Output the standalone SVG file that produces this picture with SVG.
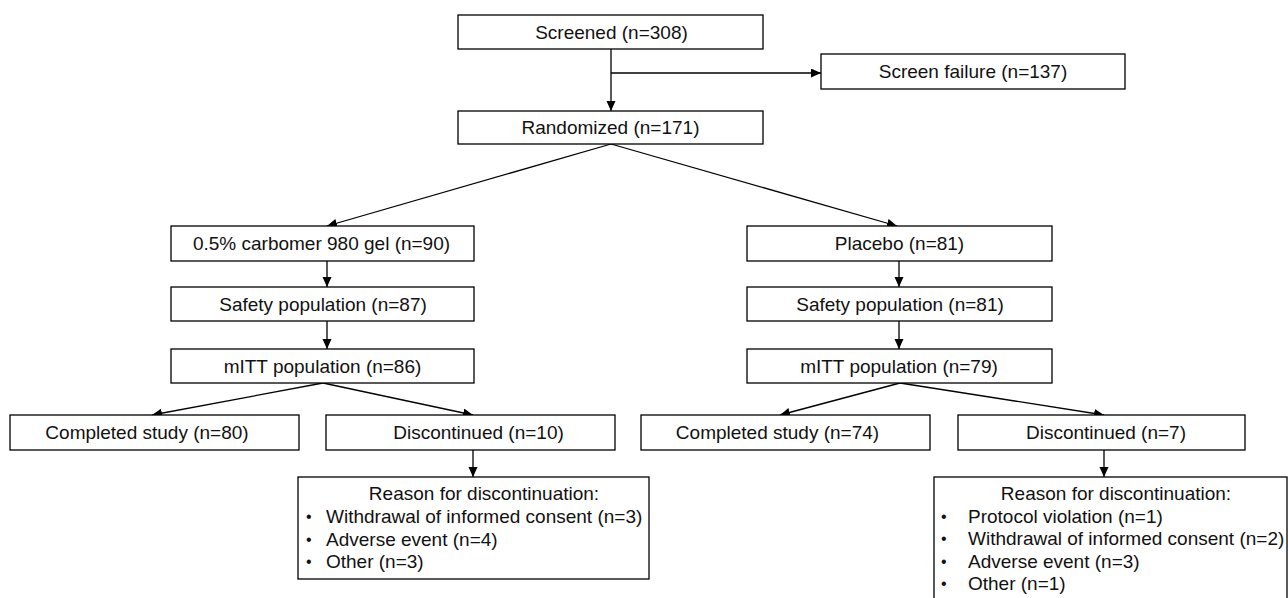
<svg xmlns="http://www.w3.org/2000/svg" width="1288" height="598" viewBox="0 0 1288 598">
<style>
rect.box{fill:#fff;stroke:#000;stroke-width:1.3}
text{font-family:"Liberation Sans",Arial,sans-serif;font-size:19px;fill:#111}
.c{text-anchor:middle}
.b{font-size:16px}
#connectors line{stroke:#000;stroke-width:1.3;fill:none}
</style>
<defs>
<marker id="ah" markerUnits="userSpaceOnUse" markerWidth="11" markerHeight="10" refX="10" refY="4.5" orient="auto">
<path d="M0,0 L10,4.5 L0,9 z" fill="#000"/>
</marker>
</defs>
<rect width="1288" height="598" fill="#fff"/>
<g id="connectors">
<line x1="611" y1="49" x2="611" y2="111" marker-end="url(#ah)"/>
<line x1="611" y1="73" x2="821" y2="73" marker-end="url(#ah)"/>
<line x1="611" y1="144" x2="327" y2="226" marker-end="url(#ah)"/>
<line x1="611" y1="144" x2="897" y2="226" marker-end="url(#ah)"/>
<line x1="327" y1="261" x2="327" y2="287" marker-end="url(#ah)"/>
<line x1="327" y1="321" x2="327" y2="349" marker-end="url(#ah)"/>
<line x1="899" y1="261" x2="899" y2="287" marker-end="url(#ah)"/>
<line x1="899" y1="321" x2="899" y2="349" marker-end="url(#ah)"/>
<line x1="323" y1="383" x2="152" y2="415" marker-end="url(#ah)"/>
<line x1="323" y1="383" x2="473" y2="415" marker-end="url(#ah)"/>
<line x1="900" y1="383" x2="780" y2="415" marker-end="url(#ah)"/>
<line x1="900" y1="383" x2="1104" y2="415" marker-end="url(#ah)"/>
<line x1="473" y1="450" x2="473" y2="477" marker-end="url(#ah)"/>
<line x1="1104" y1="450" x2="1104" y2="477" marker-end="url(#ah)"/>
</g>
<g id="screened"><rect class="box" x="458" y="15" width="305" height="34"/><text class="c" x="611.5" y="38.8">Screened (n=308)</text></g>
<g id="screen-failure"><rect class="box" x="821" y="54" width="304" height="35"/><text class="c" x="973" y="78.2">Screen failure (n=137)</text></g>
<g id="randomized"><rect class="box" x="458" y="111" width="305" height="33"/><text class="c" x="610.5" y="134.2">Randomized (n=171)</text></g>
<g id="carbomer"><rect class="box" x="171" y="226" width="303" height="35"/><text class="c" x="321.5" y="250.2">0.5% carbomer 980 gel (n=90)</text></g>
<g id="safety-left"><rect class="box" x="171" y="287" width="303" height="34"/><text class="c" x="323" y="310.7">Safety population (n=87)</text></g>
<g id="mitt-left"><rect class="box" x="171" y="349" width="303" height="34"/><text class="c" x="322.5" y="372.7">mITT population (n=86)</text></g>
<g id="placebo"><rect class="box" x="747" y="226" width="305" height="35"/><text class="c" x="899.5" y="250.2">Placebo (n=81)</text></g>
<g id="safety-right"><rect class="box" x="747" y="287" width="305" height="34"/><text class="c" x="900" y="310.7">Safety population (n=81)</text></g>
<g id="mitt-right"><rect class="box" x="747" y="349" width="305" height="34"/><text class="c" x="899" y="372.7">mITT population (n=79)</text></g>
<g id="completed-left"><rect class="box" x="10" y="415" width="289" height="35"/><text class="c" x="147" y="439.2">Completed study (n=80)</text></g>
<g id="discontinued-left"><rect class="box" x="326" y="415" width="289" height="35"/><text class="c" x="478.5" y="439.2">Discontinued (n=10)</text></g>
<g id="completed-right"><rect class="box" x="641" y="415" width="289" height="35"/><text class="c" x="777.5" y="439.2">Completed study (n=74)</text></g>
<g id="discontinued-right"><rect class="box" x="958" y="415" width="287" height="35"/><text class="c" x="1106" y="439.2">Discontinued (n=7)</text></g>
<g id="reasons-left"><rect class="box" x="298" y="477" width="351" height="102"/>
<text class="c" x="484" y="500">Reason for discontinuation:</text>
<text class="b" x="306" y="522">•</text><text x="326" y="523">Withdrawal of informed consent (n=3)</text>
<text class="b" x="306" y="545">•</text><text x="326" y="546">Adverse event (n=4)</text>
<text class="b" x="306" y="567">•</text><text x="326" y="568">Other (n=3)</text>
</g>
<g id="reasons-right"><rect class="box" x="934" y="477" width="353" height="140"/>
<text class="c" x="1116" y="500">Reason for discontinuation:</text>
<text class="b" x="941" y="522">•</text><text x="968" y="523">Protocol violation (n=1)</text>
<text class="b" x="941" y="544">•</text><text x="968" y="545">Withdrawal of informed consent (n=2)</text>
<text class="b" x="941" y="567">•</text><text x="968" y="568">Adverse event (n=3)</text>
<text class="b" x="941" y="589">•</text><text x="968" y="590">Other (n=1)</text>
</g>
</svg>
